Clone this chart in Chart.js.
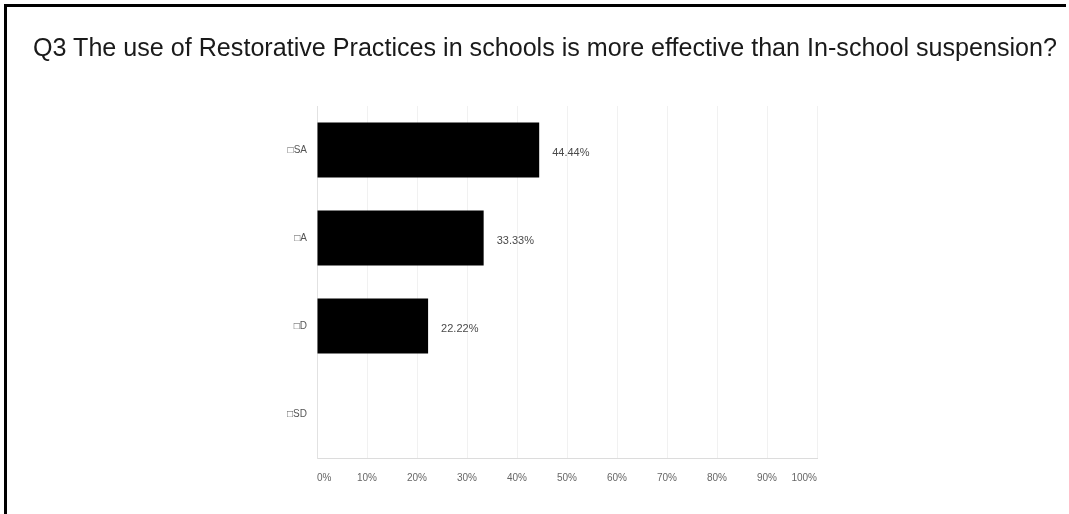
<!DOCTYPE html>
<html>
<head>
<meta charset="utf-8">
<script src="https://cdn.jsdelivr.net/npm/chart.js@4/dist/chart.umd.min.js"></script>
<style>
  html, body { margin: 0; padding: 0; background: #fff; }
  #frame { position: relative; width: 1069px; height: 514px; overflow: hidden; background: #fff; }
  #edge-top { position: absolute; left: 4px; top: 4px; width: 1062px; height: 3px; background: #000; }
  #edge-left { position: absolute; left: 4px; top: 4px; width: 3px; height: 510px; background: #000; }
  #title { position: absolute; left: 33px; top: 34px; font-family: "Liberation Sans", Arial, sans-serif;
           font-size: 26.5px; line-height: 26px; color: #1a1a1a; white-space: nowrap;
           transform: scaleX(0.948); transform-origin: 0 0; }
  #plot { position: absolute; left: 0; top: 0; width: 1069px; height: 514px; }
</style>
</head>
<body>
<div id="frame">
  <canvas id="plot" width="1069" height="514"></canvas>
  <div id="edge-top"></div>
  <div id="edge-left"></div>
  <div id="title">Q3 The use of Restorative Practices in schools is more effective than In-school suspension?</div>
</div>
<script>
// Response categories (Strongly Agree, Agree, Disagree, Strongly Disagree)
const categories = ['\u25A1SA', '\u25A1A', '\u25A1D', '\u25A1SD'];
// Share of respondents per category, in percent
const shares = [44.44, 33.33, 22.22, 0];
// Axis tick values along the percentage axis
const tickValues = [0, 10, 20, 30, 40, 50, 60, 70, 80, 90, 100];

// Writes the percentage next to the end of each non-zero bar
const valueLabels = {
  id: 'valueLabels',
  afterDatasetsDraw(chart) {
    const ctx = chart.ctx;
    const meta = chart.getDatasetMeta(0);
    ctx.save();
    ctx.font = '11px "Liberation Sans", Arial, sans-serif';
    ctx.fillStyle = '#4a4a4a';
    ctx.textAlign = 'left';
    ctx.textBaseline = 'middle';
    meta.data.forEach((bar, i) => {
      const v = shares[i];
      if (!v) return;
      ctx.fillText(v.toFixed(2) + '%', bar.x + 13, bar.y + 3);
    });
    ctx.restore();
  }
};

new Chart(document.getElementById('plot'), {
  type: 'bar',
  data: {
    labels: categories,
    datasets: [{
      data: shares,
      backgroundColor: '#000',
      borderWidth: 0,
      barPercentage: 0.625,
      categoryPercentage: 1
    }]
  },
  options: {
    indexAxis: 'y',
    responsive: false,
    animation: false,
    devicePixelRatio: 1,
    layout: { padding: { left: 257, right: 252, top: 106, bottom: 26 } },
    plugins: { legend: { display: false }, tooltip: { enabled: false }, title: { display: false } },
    scales: {
      x: {
        min: 0, max: 100,
        afterFit(scale) { scale.height = 30; },
        afterBuildTicks(scale) { scale.ticks = tickValues.map(v => ({ value: v })); },
        ticks: {
          align: 'inner',
          padding: 14,
          color: '#666',
          font: { family: '"Liberation Sans", Arial, sans-serif', size: 10 },
          callback: v => v + '%'
        },
        grid: { color: '#f1f1f1', lineWidth: 1, drawTicks: false },
        border: { color: '#dcdcdc', width: 1 }
      },
      y: {
        afterFit(scale) { scale.width = 60; },
        ticks: {
          padding: 10,
          color: '#555',
          font: { family: '"Liberation Sans", Arial, sans-serif', size: 10 }
        },
        grid: { display: false, drawTicks: false },
        border: { color: '#e2e2e2', width: 1 }
      }
    }
  },
  plugins: [valueLabels]
});
</script>
</body>
</html>
